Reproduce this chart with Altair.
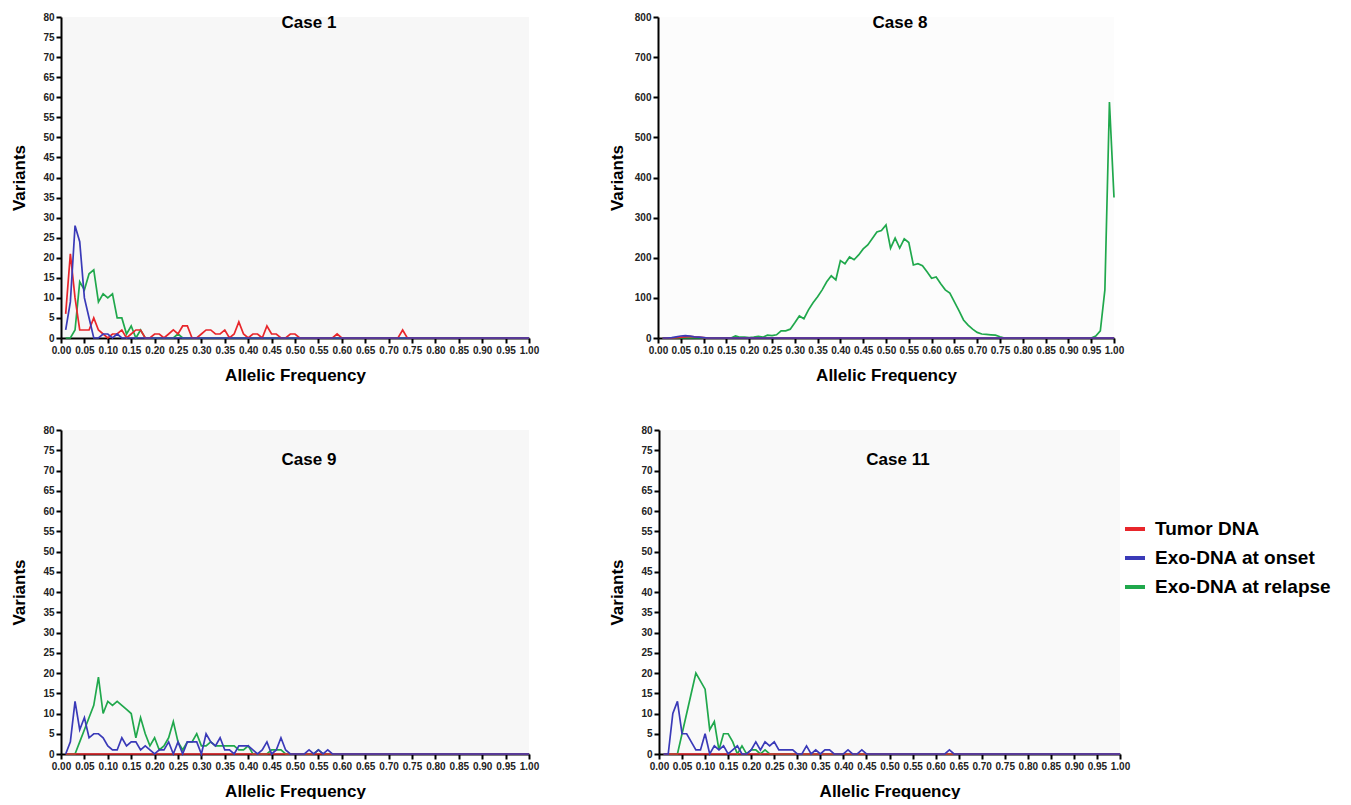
import altair as alt
import pandas as pd

FONT = "Liberation Sans"
AF = [round(0.01 * i, 2) for i in range(1, 101)]
SERIES = ["Tumor DNA", "Exo-DNA at onset", "Exo-DNA at relapse"]
COLORS = ["#e8262b", "#3a3ab8", "#20a84c"]
X_TICKS = [round(0.05 * i, 2) for i in range(21)]

# ---- Case 1 (bins 0.01 .. 1.00; unlisted trailing bins are 0)
CASE1_TUMOR = [6, 21, 10, 2, 2, 2, 5, 2, 1, 0,
               1, 1, 2, 0, 1, 2, 2, 0, 0, 1,
               1, 0, 1, 2, 1, 3, 3, 0, 0, 1,
               2, 2, 1, 1, 2, 0, 1, 4, 1, 0,
               1, 1, 0, 3, 1, 1, 0, 0, 1, 1,
               0, 0, 0, 0, 0, 0, 0, 0, 1, 0,
               0, 0, 0, 0, 0, 0, 0, 0, 0, 0,
               0, 0, 2, 0]
CASE1_ONSET = [2, 9, 28, 24, 10, 5, 0, 0, 1, 1,
               0, 1, 0]
CASE1_RELAPSE = [0, 0, 2, 14, 12, 16, 17, 9, 11, 10,
                 11, 5, 5, 1, 3, 0, 2, 0, 0, 0,
                 0, 0, 0, 0, 1, 0]

# ---- Case 8
CASE8_TUMOR = [0, 0, 0, 1, 2, 3, 4, 3, 2, 1]
CASE8_ONSET = [0, 0, 1, 3, 5, 6, 5, 3, 2, 1]
CASE8_RELAPSE = [0, 0, 0, 0, 0, 0, 0, 0, 0, 0,
                 0, 0, 0, 0, 0, 0, 5, 2, 2, 1,
                 2, 4, 2, 7, 6, 8, 18, 18, 22, 38,
                 55, 48, 70, 88, 103, 120, 140, 155, 145, 193,
                 185, 202, 195, 207, 222, 232, 248, 264, 268, 282,
                 224, 249, 224, 247, 238, 182, 185, 180, 165, 149,
                 152, 135, 120, 112, 90, 68, 45, 32, 22, 14,
                 10, 9, 8, 7, 3, 0, 0, 0, 0, 0,
                 0, 0, 0, 0, 0, 0, 0, 0, 0, 0,
                 0, 0, 0, 0, 0, 5, 18, 120, 588, 350]

# ---- Case 9
CASE9_TUMOR = []
CASE9_ONSET = [0, 3, 13, 6, 9, 4, 5, 5, 4, 2,
               1, 1, 4, 2, 3, 3, 1, 2, 1, 0,
               1, 1, 3, 0, 3, 0, 3, 3, 3, 0,
               5, 3, 2, 4, 1, 1, 0, 2, 2, 2,
               1, 0, 1, 3, 0, 1, 4, 1, 0, 0,
               0, 0, 1, 0, 1, 0, 1, 0]
CASE9_RELAPSE = [0, 0, 0, 3, 6, 9, 12, 19, 10, 13,
                 12, 13, 12, 11, 10, 4, 9, 5, 2, 4,
                 1, 2, 4, 8, 3, 1, 3, 3, 5, 2,
                 2, 3, 2, 2, 2, 2, 2, 1, 1, 2,
                 0, 0, 0, 0, 1, 1, 1, 0, 0, 0,
                 0, 0, 0, 0, 1, 0]

# ---- Case 11
CASE11_TUMOR = []
CASE11_ONSET = [0, 0, 10, 13, 5, 5, 3, 1, 1, 5,
                0, 2, 1, 2, 0, 1, 2, 0, 0, 1,
                3, 1, 3, 2, 3, 1, 1, 1, 1, 0,
                0, 2, 0, 1, 0, 1, 1, 0, 0, 0,
                1, 0, 0, 1, 0, 0, 0, 0, 0, 0,
                0, 0, 0, 0, 0, 0, 0, 0, 0, 0,
                0, 0, 1, 0]
CASE11_RELAPSE = [0, 0, 0, 0, 5, 10, 15, 20, 18, 16,
                  6, 8, 1, 5, 5, 3, 0, 2, 0, 1,
                  1, 0, 1, 0]


def full(v):
    return list(v) + [0] * (100 - len(v))


def make_df(tumor, onset, relapse):
    rows = []
    for name, vals in zip(SERIES, [tumor, onset, relapse]):
        for a, n in zip(AF, full(vals)):
            rows.append({"af": a, "n": n, "series": name})
    return pd.DataFrame(rows)


color_scale = alt.Scale(domain=SERIES, range=COLORS)


def panel(case, df, ymax, ystep, width, height, tx, ty, bgcol, ytitle_pad):
    xenc = alt.X("af:Q", scale=alt.Scale(domain=[0, 1], nice=False),
                 axis=alt.Axis(values=X_TICKS, format=".2f", title="Allelic Frequency",
                               titlePadding=12))
    yenc = alt.Y("n:Q", scale=alt.Scale(domain=[0, ymax], nice=False),
                 axis=alt.Axis(values=list(range(0, ymax + 1, ystep)), title="Variants",
                               titlePadding=ytitle_pad))
    cenc = alt.Color("series:N", scale=color_scale, title=None)
    dummy = pd.DataFrame({"t": [case]})
    layers = []
    for s in ["Exo-DNA at relapse", "Tumor DNA", "Exo-DNA at onset"]:
        layers.append(
            alt.Chart(df).transform_filter(alt.datum.series == s)
            .mark_line(strokeWidth=1.7, clip=False)
            .encode(x=xenc, y=yenc, color=cenc)
        )
    title = alt.Chart(dummy).mark_text(fontSize=17, fontWeight="bold", font=FONT,
                                       color="#000000").encode(
        text="t:N", x=alt.value(tx), y=alt.value(ty))
    layers.append(title)
    return alt.layer(*layers).properties(
        width=width, height=height,
        view=alt.ViewBackground(fill=bgcol, stroke=None),
    )


c1 = panel("Case 1", make_df(CASE1_TUMOR, CASE1_ONSET, CASE1_RELAPSE), 80, 5,
           468, 321, 248, 6, "#f7f7f7", 14)
c8 = panel("Case 8", make_df(CASE8_TUMOR, CASE8_ONSET, CASE8_RELAPSE), 800, 100,
           456, 321, 242, 6, "#fcfcfc", 8)
c9 = panel("Case 9", make_df(CASE9_TUMOR, CASE9_ONSET, CASE9_RELAPSE), 80, 5,
           468, 324, 248, 30, "#f7f7f7", 14)
c11 = panel("Case 11", make_df(CASE11_TUMOR, CASE11_ONSET, CASE11_RELAPSE), 80, 5,
            461, 324, 239, 30, "#f9f9f9", 14)

chart = alt.vconcat(
    alt.hconcat(c1, c8, spacing=69),
    alt.hconcat(c9, c11, spacing=69),
    spacing=42,
).properties(
    padding={"left": 2, "top": 4, "right": 0, "bottom": 0},
    background="#ffffff",
).configure_axis(
    grid=False,
    domainColor="#000000",
    domainWidth=2,
    tickColor="#000000",
    tickWidth=2,
    tickSize=5,
    labelFont=FONT,
    labelFontSize=10,
    labelFontWeight="bold",
    labelColor="#222222",
    labelOverlap=False,
    labelFlush=False,
    labelPadding=2,
    titleFont=FONT,
    titleFontSize=17,
    titleFontWeight="bold",
    titleColor="#000000",
).configure_legend(
    orient="none",
    legendX=1062,
    legendY=500,
    padding=0,
    title=None,
    symbolType="stroke",
    symbolStrokeWidth=4,
    symbolSize=400,
    labelFont=FONT,
    labelFontSize=19,
    labelFontWeight="bold",
    labelColor="#000000",
    labelLimit=400,
    rowPadding=7,
    labelOffset=8,
)

chart.save("out.html", embed_options={"renderer": "svg", "actions": False})
